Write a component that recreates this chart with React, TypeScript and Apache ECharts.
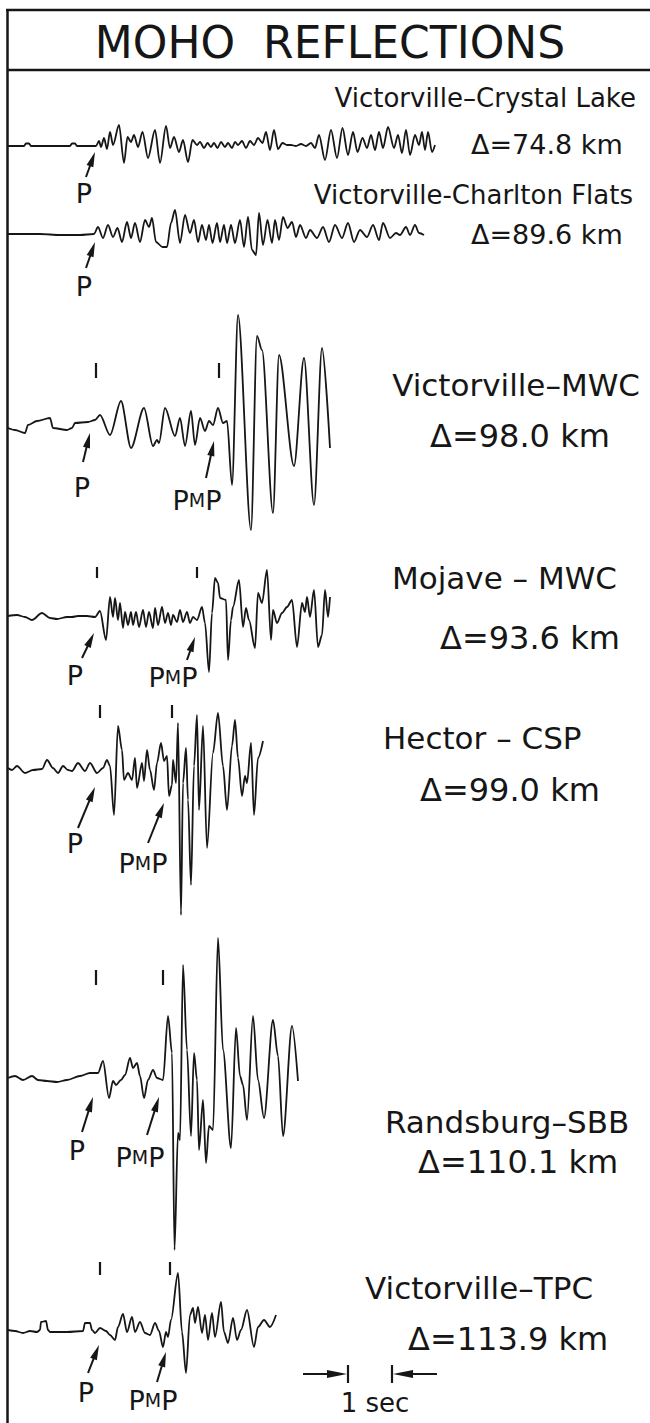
import React, { useEffect, useRef } from "react";
import * as echarts from "echarts";

// ---------- DATA (time axis in px, amplitude in px, positive = up) ----------
const TITLE = "MOHO  REFLECTIONS";
const STATIONS = [
  "Victorville–Crystal Lake",
  "Victorville-Charlton Flats",
  "Victorville–MWC",
  "Mojave – MWC",
  "Hector – CSP",
  "Randsburg–SBB",
  "Victorville–TPC",
];
const DISTANCES_KM = [74.8, 89.6, 98.0, 93.6, 99.0, 110.1, 113.9];

const TRACE_CRYSTAL_LAKE = [
  [8, 0], [24, 0], [26, 2.5], [29, 2.5], [31, 0], [70, 0], [72, 2.5], [75, 2.5], [77, 0], [96, 0],
  [99, 5], [101, -1], [104, 8], [107, -3], [110, 14], [113, 1], [119, 21], [124, -17], [127.5, 9],
  [131, 4], [134, 11], [138, -1], [142.5, 14], [148, -12], [155, 16], [160, -17], [166, 20], [170, -2],
  [174, 9], [179, -6], [183, 6], [188, -16], [192.5, 6], [197, 1], [200, 4], [204, -2], [207.5, 3],
  [211, -1], [214, 3], [217.5, -2], [221, 4], [225, -1], [228, 3], [232, -2], [235, 4], [238, 1],
  [242, 5], [246, -2], [250, 5], [254, 1], [258, 8], [262.5, 3], [266, 14], [270, -4], [274, 16],
  [278, -3], [282.5, 3], [287, 1], [291, 1], [296, 0], [301, 2], [306, 0], [311, 3], [315, -2],
  [319, 11], [325, -14], [331, 16], [337, -12], [342.5, 18], [348, -9], [353, 14], [357.5, -6],
  [362.5, 8], [367, -2], [371, 11], [375, -4], [379, 14], [383, -2], [388, 19], [394, -2], [398, 11],
  [402, -7], [406, 16], [410, -9], [415, 11], [419, 1], [422, 14], [425, -4], [428, 14], [432, -6], [435, 1],
];
const TRACE_CHARLTON_FLATS = [
  [8, 0], [40, 0], [60, -1], [80, -1], [94, 0], [98, 7], [103, -4], [108, 9], [113, -3], [117.5, 6],
  [122, -8], [127, 12], [131, -4], [135, 11], [140, -8], [145, 14], [149, 7], [152, 16], [156, -8],
  [162.5, -13], [167, -13], [171, 11], [175, 24], [180, -9], [185, 19], [190, 1], [194, 14], [198, -8],
  [202, 9], [206, -6], [209, 9], [212.5, -9], [217, 11], [220, -8], [224, 9], [227, -9], [231, 9],
  [235, -9], [240, 14], [244, -13], [248, 17], [252, -16], [256, -21], [259, 21], [263, -11],
  [267.5, 14], [272, -9], [275, 14], [279, -6], [283, 17], [287.5, 6], [292, 12], [296, -3], [300, 9],
  [306, -4], [310, 4], [317, -4], [323, 7], [329, -8], [335, 9], [342, -4], [348, 11], [354, -8],
  [360, 4], [367, -3], [373, 9], [379, -6], [383, 11], [390, -4], [396, 1], [400, -1], [406, 7],
  [410, -1], [415, 9], [419, 1], [424, -1],
];
const TRACE_VICTORVILLE_MWC = [
  [8, 0], [15, -2], [25, -5], [28, 3], [37, 7], [50, 10], [53, 0], [67, -2], [72, 0], [75, 5], [88, 6],
  [95, 8], [100, 13], [110, -7], [121, 27], [131, -20], [144, 20], [153, -18], [157, -12], [159, -15],
  [165, 20], [175, -8], [180, 10], [185, -18], [191, 17], [195, -17], [200, 10], [205, -3], [209, 7],
  [213, 3], [218, 20], [223, 5], [227, 7], [232, -57], [238, 113], [251, -102], [257, 92], [262, 78],
  [273, -85], [279, 73], [294, -38], [304, 70], [314, -77], [322, 80], [330, -20],
];
const TRACE_MOJAVE_MWC = [
  [8, 0], [17, 1], [25, -1], [32, -4], [42, 3], [50, -2], [57, -3], [67, -1], [72, -1], [78, 0], [87, 0],
  [95, -1], [100, 5], [106, -24], [110, 19], [113, -1], [115, 18], [118, -4], [120, 13], [123, -12],
  [125, 4], [128, -9], [131, 4], [133, -9], [136, 4], [139, -11], [143, 6], [146, -11], [149, 4],
  [153, -12], [155, 8], [158, -9], [162, 9], [165, -7], [168, 3], [171, -9], [173, 1], [177, -6],
  [180, 6], [183, -6], [187, 4], [190, -7], [193, -1], [197, -4], [202, 9], [205, -7], [209, -56],
  [212, 3], [215, 38], [218, 33], [220, 18], [226, 16], [228, -44], [231, -4], [233, 9], [239, 36],
  [243, -11], [246, 8], [249, -4], [255, -32], [258, 23], [262, 13], [267, 46], [271, -24], [273, 6],
  [277, -7], [282, 3], [287, 9], [292, 16], [297, -31], [302, 13], [305, 4], [307, 19], [310, -1],
  [314, 26], [318, -31], [322, -19], [325, 26], [328, -1], [330, 19],
];
const TRACE_HECTOR_CSP = [
  [8, 0], [12, -2], [17, 2], [25, -5], [33, -2], [42, -1], [47, 8], [53, 0], [58, -5], [63, 2], [68, -2],
  [72, -3], [78, 5], [85, -3], [90, 5], [97, -5], [103, 0], [107, 8], [110, 2], [114, -47], [118, 42],
  [122, 18], [124, -12], [128, -5], [132, -12], [135, 10], [137, -20], [142, 5], [144, -13], [147, 18],
  [150, -2], [154, -22], [157, 5], [161, 25], [164, 7], [167, 12], [169, -28], [172, -17], [173, 8],
  [176, -15], [178, 45], [181, -147], [183, -15], [186, 20], [188, -32], [191, -117], [194, 2],
  [197, 53], [199, -42], [203, 42], [207, -80], [213, 15], [218, 55], [223, 2], [227, -42], [232, 22],
  [235, 48], [238, 10], [242, -28], [245, -8], [247, -15], [251, 25], [254, -47], [258, 10], [263, 27],
];
const TRACE_RANDSBURG_SBB = [
  [8, 0], [15, 2], [23, -2], [32, 2], [38, -2], [47, -3], [57, -4], [67, -2], [80, 2], [90, 5], [98, 5],
  [103, 17], [109, -20], [113, -3], [116, -7], [121, -2], [125, 3], [130, 20], [133, 10], [137, 15],
  [140, 2], [144, -20], [148, -2], [153, 8], [157, 0], [163, -2], [168, 62], [172, 25], [174.5, -172],
  [178, -55], [180, -62], [183, 113], [187, 28], [191, -58], [194, 25], [197, -2], [199, -72],
  [203, -22], [206, -85], [209, -48], [213, -52], [218, 140], [223, 28], [231, -70], [236, 50],
  [240, 2], [243, -7], [247, -42], [253, 62], [258, -2], [264, -40], [273, 58], [278, 22], [283, -58],
  [292, 52], [298, -3],
];
const TRACE_VICTORVILLE_TPC = [
  [8, 0], [15, -1], [23, -3], [30, -1], [37, -2], [40, 0], [41, 8], [46, 9], [48, 0], [50, -2], [67, -2],
  [83, -1], [85, 7], [90, 7], [92, 0], [95, -3], [100, 2], [106, -1], [110, -5], [115, -10], [118, 3],
  [123, 16], [127, -2], [132, 13], [135, -2], [140, 8], [145, -3], [150, -5], [155, 7], [159, -1],
  [163, -17], [166, -2], [168, -7], [171, 10], [178, 57], [182, -2], [186, -43], [190, 15], [193, 22],
  [195, 7], [198, 23], [202, -3], [205, 15], [208, -10], [212, 17], [215, -7], [221, 28], [224, -2],
  [228, -13], [233, 12], [237, -10], [241, 0], [247, 20], [254, -17], [258, 3], [264, 10], [270, 3],
  [276, 15],
];
const TRACES = [
  TRACE_CRYSTAL_LAKE,
  TRACE_CHARLTON_FLATS,
  TRACE_VICTORVILLE_MWC,
  TRACE_MOJAVE_MWC,
  TRACE_HECTOR_CSP,
  TRACE_RANDSBURG_SBB,
  TRACE_VICTORVILLE_TPC,
];
// arrival time marks (x of the small vertical ticks): [P, PmP]
const ARRIVAL_TICKS = [null, null, [96, 219], [97, 197], [100, 172], [96, 163], [100, 170]];
const SCALE_BAR_SECONDS = 1;
const PX_PER_SECOND = 44;

// ---------- LAYOUT ----------
const INK = "#161616";
const FONT = "'DejaVu Sans', 'Liberation Sans', sans-serif";
const BASELINES = [146, 234, 428, 616, 768, 1078, 1330];
const TICK_Y = [null, null, [363, 378], [567, 578], [705, 718], [970, 985], [1262, 1275]];
const STATION_POS = [
  { x: 636, y: 98, align: "right", size: 26 },
  { x: 633, y: 195, align: "right", size: 26 },
  { x: 640, y: 385, align: "right", size: 31 },
  { x: 392, y: 578, align: "left", size: 31 },
  { x: 383, y: 738, align: "left", size: 31 },
  { x: 385, y: 1122, align: "left", size: 31 },
  { x: 365, y: 1288, align: "left", size: 31 },
];
const DIST_POS = [
  { x: 471, y: 144, size: 27 },
  { x: 471, y: 234, size: 27 },
  { x: 430, y: 436, size: 32 },
  { x: 440, y: 638, size: 32 },
  { x: 420, y: 790, size: 32 },
  { x: 418, y: 1162, size: 32 },
  { x: 408, y: 1339, size: 32 },
];
const P_ARROWS = [
  [86, 177, 95, 152], [86, 268, 95, 242], [83, 462, 90, 433], [82, 658, 94, 633],
  [78, 828, 95, 787], [82, 1132, 93, 1097], [88, 1373, 99, 1345],
];
const PMP_ARROWS = [
  null, null, [206, 478, 214, 441], [187, 660, 195, 637], [148, 843, 164, 803],
  [147, 1135, 159, 1097], [157, 1382, 166, 1352],
];
const P_LABELS = [[84, 193], [84, 286], [82, 487], [75, 675], [75, 843], [77, 1150], [86, 1392]];
const PMP_LABELS = [null, null, [197, 500], [173, 677], [143, 863], [140, 1157], [153, 1400]];
const SCALE_Y = 1374;
const SCALE_X0 = 348;

function txt(text: string, x: number, y: number, size: number, align = "left", extra: any = {}) {
  return {
    type: "text",
    x,
    y,
    silent: true,
    style: {
      text,
      fill: INK,
      font: `${size}px ${FONT}`,
      fontSize: size,
      fontFamily: FONT,
      align,
      textAlign: align,
      verticalAlign: "middle",
      textVerticalAlign: "middle",
      ...extra,
    },
  };
}

export default function App() {
  const ref = useRef<HTMLDivElement>(null);
  useEffect(() => {
    document.body.style.margin = "0";
    const chart = echarts.init(ref.current!, null, { renderer: "svg" });

    const traceSeries = TRACES.map((tr, i) => ({
      type: "line",
      name: STATIONS[i],
      data: tr.map(([t, a]) => [t, BASELINES[i] - a]),
      showSymbol: false,
      symbol: "none",
      smooth: 0.3,
      smoothMonotone: "x",
      silent: true,
      lineStyle: { color: INK, width: 1.8 },
      z: 3,
    }));

    const segs: number[][] = [];
    ARRIVAL_TICKS.forEach((ticks, i) => {
      if (!ticks) return;
      const [y1, y2] = TICK_Y[i]!;
      ticks.forEach((x) => segs.push([x, y1, x, y2]));
    });
    const x1 = SCALE_X0;
    const x2 = SCALE_X0 + SCALE_BAR_SECONDS * PX_PER_SECOND;
    segs.push([x1, SCALE_Y - 9, x1, SCALE_Y + 9]);
    segs.push([x2, SCALE_Y - 9, x2, SCALE_Y + 9]);

    const arrows: number[][] = [];
    P_ARROWS.forEach((a) => arrows.push([...a, 15, 3.6]));
    PMP_ARROWS.forEach((a) => a && arrows.push([...a, 15, 3.6]));
    arrows.push([x1 - 45, SCALE_Y, x1 - 1, SCALE_Y, 20, 4]);
    arrows.push([x2 + 45, SCALE_Y, x2 + 1, SCALE_Y, 20, 4]);

    const segSeries = {
      type: "custom",
      silent: true,
      data: segs,
      z: 4,
      renderItem: (_p: any, api: any) => {
        const a = api.coord([api.value(0), api.value(1)]);
        const b = api.coord([api.value(2), api.value(3)]);
        return {
          type: "line",
          shape: { x1: a[0], y1: a[1], x2: b[0], y2: b[1] },
          style: { stroke: INK, lineWidth: 2.2 },
        };
      },
    };
    const arrowSeries = {
      type: "custom",
      silent: true,
      data: arrows,
      z: 4,
      renderItem: (_p: any, api: any) => {
        const a = api.coord([api.value(0), api.value(1)]);
        const b = api.coord([api.value(2), api.value(3)]);
        const L = api.value(4);
        const W = api.value(5);
        const dx = b[0] - a[0];
        const dy = b[1] - a[1];
        const len = Math.hypot(dx, dy) || 1;
        const ux = dx / len;
        const uy = dy / len;
        const bx = b[0] - ux * L;
        const by = b[1] - uy * L;
        const nx = -uy;
        const ny = ux;
        return {
          type: "group",
          children: [
            {
              type: "line",
              shape: { x1: a[0], y1: a[1], x2: bx + ux * 2, y2: by + uy * 2 },
              style: { stroke: INK, lineWidth: 2 },
            },
            {
              type: "polygon",
              shape: {
                points: [
                  [b[0], b[1]],
                  [bx + nx * W, by + ny * W],
                  [bx - nx * W, by - ny * W],
                ],
              },
              style: { fill: INK },
            },
          ],
        };
      },
    };

    const graphics: any[] = [
      { type: "line", silent: true, shape: { x1: 6, y1: 10, x2: 650, y2: 10 }, style: { stroke: INK, lineWidth: 2.5 } },
      { type: "line", silent: true, shape: { x1: 7.5, y1: 9, x2: 7.5, y2: 1423 }, style: { stroke: INK, lineWidth: 2.5 } },
      { type: "line", silent: true, shape: { x1: 7, y1: 70, x2: 650, y2: 70 }, style: { stroke: INK, lineWidth: 2.5 } },
      txt(TITLE, 330, 42, 44, "center"),
    ];
    STATIONS.forEach((s, i) => {
      const p = STATION_POS[i];
      graphics.push(txt(s, p.x, p.y, p.size, p.align));
    });
    DISTANCES_KM.forEach((d, i) => {
      const p = DIST_POS[i];
      graphics.push(txt(`Δ=${d.toFixed(1)} km`, p.x, p.y, p.size, "left"));
    });
    P_LABELS.forEach(([x, y]) => graphics.push(txt("P", x, y, 27, "center")));
    PMP_LABELS.forEach((p) => {
      if (!p) return;
      graphics.push(
        txt("{a|P}{b|M}{a|P}", p[0], p[1], 27, "center", {
          rich: {
            a: { fontSize: 27, fontFamily: FONT, fill: INK, color: INK },
            b: { fontSize: 19, fontFamily: FONT, fill: INK, color: INK },
          },
        })
      );
    });
    graphics.push(txt(`${SCALE_BAR_SECONDS} sec`, (x1 + x2) / 2 + 5, 1403, 26, "center"));

    chart.setOption({
      animation: false,
      backgroundColor: "#ffffff",
      grid: { left: 0, right: 0, top: 0, bottom: 0, containLabel: false },
      xAxis: { type: "value", min: 0, max: 650, show: false },
      yAxis: { type: "value", min: 0, max: 1423, inverse: true, show: false },
      series: [...traceSeries, segSeries, arrowSeries],
      graphic: { elements: graphics },
    });
    return () => chart.dispose();
  }, []);
  return <div ref={ref} style={{ width: 650, height: 1423, background: "#fff" }} />;
}
